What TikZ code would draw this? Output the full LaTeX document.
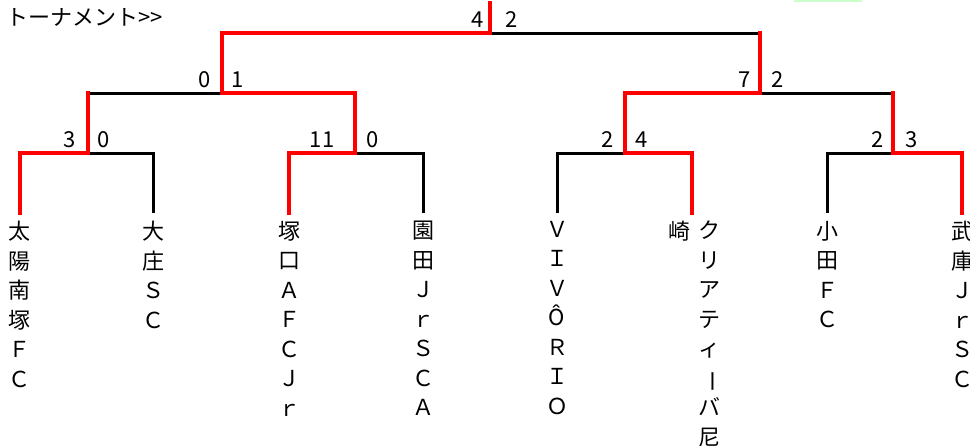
\documentclass[tikz,border=0pt]{standalone}
\usepackage{fontspec}
\setmainfont{Noto Sans CJK JP}
\definecolor{cellgreen}{RGB}{204,255,204}
\begin{document}
\begin{tikzpicture}[x=1pt,y=-1pt]
\useasboundingbox (0,0) rectangle (970,445);

%styles
\tikzstyle{team} = [anchor=north, align=center, inner sep=0pt, font=\fontsize{22}{29.5}\selectfont]
\tikzstyle{score} = [inner sep=0pt, font=\fontsize{22}{22}\selectfont]
\tikzstyle{won} = [draw=red, line width=4.3pt, line cap=rect]
\tikzstyle{lost} = [draw=black, line width=3pt]

%title
\fill[cellgreen] (794,0) rectangle (862,2);
\node (title) [anchor=west, inner sep=0pt, font=\fontsize{22}{22}\selectfont] at (6,17) {トーナメント>{}>};

%junctions
\coordinate (ftop) at (490,3);
\coordinate (f)  at (490,33);
\coordinate (s1) at (222,93);
\coordinate (s2) at (760,93);
\coordinate (q1) at (88,153);
\coordinate (q2) at (355,153);
\coordinate (q3) at (625,153);
\coordinate (q4) at (893,153);
\coordinate (e1) at (20,213);
\coordinate (e2) at (153,213);
\coordinate (e3) at (289,213);
\coordinate (e4) at (423,213);
\coordinate (e5) at (557,213);
\coordinate (e6) at (692,213);
\coordinate (e7) at (827,213);
\coordinate (e8) at (962,213);

%teams
\node (team1) [team] at (20,221)  {太\\陽\\南\\塚\\Ｆ\\Ｃ};
\node (team2) [team] at (153,221) {大\\庄\\Ｓ\\Ｃ};
\node (team3) [team] at (289,221) {塚\\口\\Ａ\\Ｆ\\Ｃ\\Ｊ\\ｒ};
\node (team4) [team] at (423,221) {園\\田\\Ｊ\\ｒ\\Ｓ\\Ｃ\\Ａ};
\node (team5) [team] at (557,221) {Ｖ\\Ｉ\\Ｖ\\Ô\\Ｒ\\Ｉ\\Ｏ};
\node (team6) [team] at (709,221) {ク\\リ\\ア\\テ\\ィ\\\rotatebox[origin=c]{-90}{ー}\\バ\\尼};
\node (team6b) [team] at (679,221) {崎};
\node (team7) [team] at (827,221) {小\\田\\Ｆ\\Ｃ};
\node (team8) [team] at (962,221) {武\\庫\\Ｊ\\ｒ\\Ｓ\\Ｃ};

%scores
\node (score1)  [score] at (478,20)  {4};
\node (score2)  [score] at (512,20)  {2};
\node (score3)  [score] at (205,80)  {0};
\node (score4)  [score] at (238,80)  {1};
\node (score5)  [score] at (745,80)  {7};
\node (score6)  [score] at (778,80)  {2};
\node (score7)  [score] at (70,140)  {3};
\node (score8)  [score] at (104,140) {0};
\node (score9)  [score] at (322,140) {11};
\node (score10) [score] at (373,140) {0};
\node (score11) [score] at (608,140) {2};
\node (score12) [score] at (642,140) {4};
\node (score13) [score] at (878,140) {2};
\node (score14) [score] at (912,140) {3};

%losers
\draw[lost] (q1) -| (e2);
\draw[lost] (q2) -| (e4);
\draw[lost] (e5) |- (q3);
\draw[lost] (e7) |- (q4);
\draw[lost] (s1) -- (q1 |- s1);
\draw[lost] (s2) -- (q4 |- s2);
\draw[lost] (f) -- (s2 |- f);

%winners
\draw[won] (e1) |- (q1);
\draw[won] (e3) |- (q2);
\draw[won] (q3) -| (e6);
\draw[won] (q4) -| (e8);
\draw[won] (q1) -- (q1 |- s1);
\draw[won] (s1) -| (q2);
\draw[won] (q3) |- (s2);
\draw[won] (q4) -- (q4 |- s2);
\draw[won] (s1) |- (f);
\draw[won] (s2) -- (s2 |- f);
\draw[won] (ftop) -- (f);

\end{tikzpicture}
\end{document}
